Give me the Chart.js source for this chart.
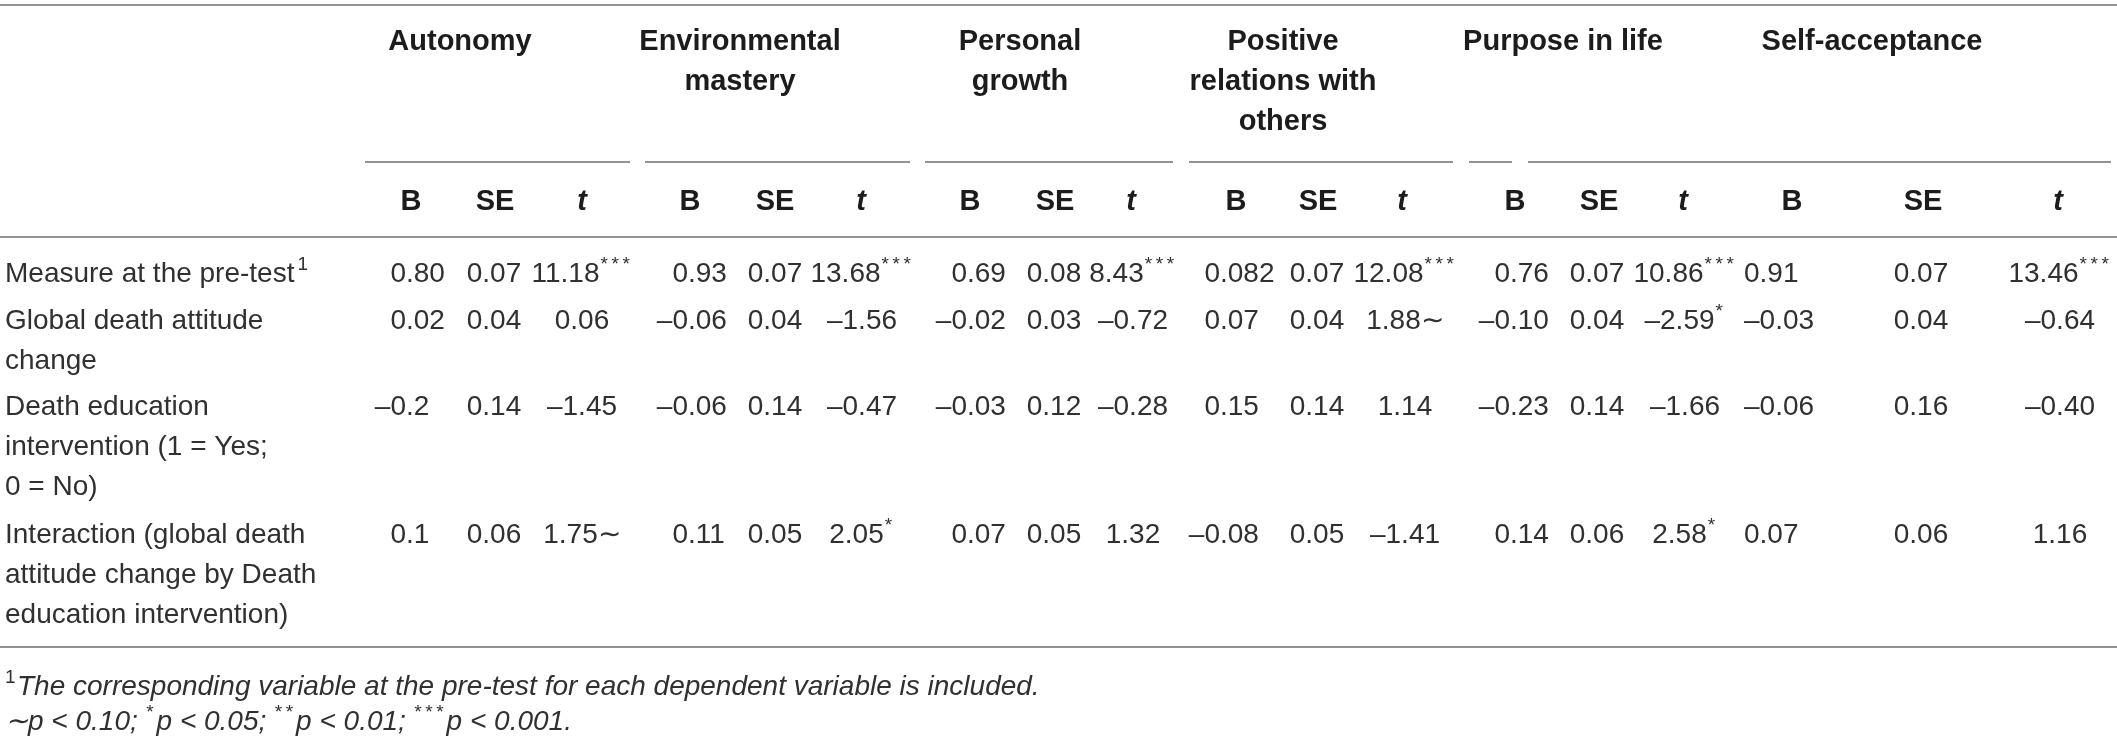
<!DOCTYPE html>
<html>
<head>
<meta charset="utf-8">
<script src="https://cdn.jsdelivr.net/npm/chart.js@4.4.1/dist/chart.umd.min.js"></script>
<style>
  html, body { margin: 0; padding: 0; background: #fff; }
  #wrap { width: 2117px; height: 739px; position: relative; }
</style>
</head>
<body>
<div id="wrap"><canvas id="chart"></canvas></div>
<script>
// ---- data ----
const headingLines = [
  ['Autonomy'],
  ['Environmental', 'mastery'],
  ['Personal', 'growth'],
  ['Positive', 'relations with', 'others'],
  ['Purpose in life'],
  ['Self-acceptance']
];
const statNames = ['B', 'SE', 't'];
const rowLabels = [
  ['Measure at the pre-test'],
  ['Global death attitude', 'change'],
  ['Death education', 'intervention (1 = Yes;', '0 = No)'],
  ['Interaction (global death', 'attitude change by Death', 'education intervention)']
];
const rowNotes = ['1', '', '', ''];

// one row per predictor, one entry per dependent variable
const coefB = [
  ['0.80', '0.93', '0.69', '0.082', '0.76', '0.91'],
  ['0.02', '-0.06', '-0.02', '0.07', '-0.10', '-0.03'],
  ['-0.2', '-0.06', '-0.03', '0.15', '-0.23', '-0.06'],
  ['0.1', '0.11', '0.07', '-0.08', '0.14', '0.07']
];
const coefSE = [
  ['0.07', '0.07', '0.08', '0.07', '0.07', '0.07'],
  ['0.04', '0.04', '0.03', '0.04', '0.04', '0.04'],
  ['0.14', '0.14', '0.12', '0.14', '0.14', '0.16'],
  ['0.06', '0.05', '0.05', '0.05', '0.06', '0.06']
];
const coefT = [
  ['11.18', '13.68', '8.43', '12.08', '10.86', '13.46'],
  ['0.06', '-1.56', '-0.72', '1.88', '-2.59', '-0.64'],
  ['-1.45', '-0.47', '-0.28', '1.14', '-1.66', '-0.40'],
  ['1.75', '2.05', '1.32', '-1.41', '2.58', '1.16']
];
const signif = [
  ['***', '***', '***', '***', '***', '***'],
  ['', '', '', '~', '*', ''],
  ['', '', '', '', '', ''],
  ['~', '*', '', '', '*', '']
];
const footnote1 = 'The corresponding variable at the pre-test for each dependent variable is included.';
const footnote2 = [['~', 'p < 0.10; '], ['*', 'p < 0.05; '], ['**', 'p < 0.01; '], ['***', 'p < 0.001.']];

// ---- layout ----
const W = 2117, H = 739;
const FAM = '"Liberation Sans", Arial, sans-serif';
const BODY = 28, HEADSZ = 29, SUP = 19, STAR_GAP = 11;
const TEXT = '#303030', HEAD = '#1c1c1c', RULE = '#929292';
const headCenter = [460, 740, 1020, 1283, 1563, 1872];
const headY = [42, 82, 122];
const underlines = [[365, 630], [645, 910], [925, 1173], [1189, 1453], [1469, 1512], [1528, 2111]];
const statHeadX = [
  [411, 690, 970, 1236, 1515, 1792],
  [495, 775, 1055, 1318, 1599, 1923],
  [582, 861, 1131, 1402, 1683, 2058]
];
const bPointX = [406, 688, 967, 1220, 1510, 1744];
const bAlign = ['decimal', 'decimal', 'decimal', 'decimal', 'decimal', 'left'];
const seX = [494, 775, 1054, 1317, 1597, 1921];
const tX = [582, 862, 1133, 1405, 1685, 2060];
const statY = 202;
const rowY = [274, 321, 407, 535];
const lineGap = 40;
const rules = { top: 5, group: 162, head: 237, bottom: 647 };

const dash = s => s.replace('-', '\u2013');

const tablePlugin = {
  id: 'table',
  beforeDraw(chart) {
    const ctx = chart.ctx;
    ctx.save();
    ctx.fillStyle = '#fff';
    ctx.fillRect(0, 0, chart.width, chart.height);
    ctx.restore();
  },
  afterDraw(chart) {
    const ctx = chart.ctx;
    const X = v => chart.scales.x.getPixelForValue(v);
    const Y = v => chart.scales.y.getPixelForValue(v);
    ctx.save();
    ctx.textBaseline = 'middle';
    ctx.textAlign = 'left';

    const measure = (txt, size, style) => {
      ctx.font = (style || '') + ' ' + size + 'px ' + FAM;
      return ctx.measureText(txt).width;
    };
    const draw = (txt, x, y, size, style, align) => {
      const w = measure(txt, size, style);
      let left = x;
      if (align === 'center') left = x - w / 2;
      else if (align === 'right') left = x - w;
      ctx.fillText(txt, left, y);
      return w;
    };
    // superscript marks, asterisks spaced like the source
    const supWidth = s => s.length * STAR_GAP;
    const drawSup = (s, x, y, style) => {
      for (let i = 0; i < s.length; i++) draw(s[i], x + i * STAR_GAP, y - 9, SUP, style);
      return supWidth(s);
    };

    // rules
    ctx.strokeStyle = RULE;
    ctx.lineWidth = 2;
    const hline = (x0, x1, y) => {
      ctx.beginPath();
      ctx.moveTo(X(x0), Y(y));
      ctx.lineTo(X(x1), Y(y));
      ctx.stroke();
    };
    hline(0, W, rules.top);
    hline(0, W, rules.head);
    hline(0, W, rules.bottom);
    underlines.forEach(u => hline(u[0], u[1], rules.group));

    // group headings
    ctx.fillStyle = HEAD;
    headingLines.forEach((lines, g) => {
      lines.forEach((l, i) => draw(l, X(headCenter[g]), Y(headY[i]), HEADSZ, 'bold', 'center'));
    });

    // B / SE / t
    statNames.forEach((s, k) => {
      statHeadX[k].forEach(x => draw(s, X(x), Y(statY), HEADSZ, s === 't' ? 'italic bold' : 'bold', 'center'));
    });

    ctx.fillStyle = TEXT;
    // row labels
    rowLabels.forEach((lines, r) => {
      lines.forEach((l, i) => {
        const y = Y(rowY[r] + i * lineGap);
        const w = draw(l, X(5), y, BODY);
        if (i === lines.length - 1 && rowNotes[r]) draw(rowNotes[r], X(5) + w + 3, y - 9, SUP);
      });
    });

    // cells
    coefB.forEach((row, r) => {
      const y = Y(rowY[r]);
      row.forEach((v, g) => {
        const s = dash(v);
        let left = X(bPointX[g]);
        if (bAlign[g] === 'decimal') left -= measure(s.split('.')[0], BODY);
        draw(s, left, y, BODY);
        draw(dash(coefSE[r][g]), X(seX[g]), y, BODY, '', 'center');

        const tTxt = dash(coefT[r][g]) + (signif[r][g] === '~' ? '\u223C' : '');
        const star = signif[r][g] === '~' ? '' : signif[r][g];
        const wMain = measure(tTxt, BODY);
        const wStar = star ? supWidth(star) : 0;
        const left2 = X(tX[g]) - (wMain + wStar) / 2;
        draw(tTxt, left2, y, BODY);
        if (star) drawSup(star, left2 + wMain + 1, y);
      });
    });

    // footnotes
    draw('1', X(5), Y(678), SUP);
    draw(footnote1, X(17), Y(687), BODY, 'italic');
    let fx = X(5);
    const fy = Y(722);
    footnote2.forEach(([mark, txt]) => {
      if (mark === '~') fx += draw('\u223C', fx, fy, BODY, 'italic');
      else fx += drawSup(mark, fx, fy, 'italic');
      fx += draw(txt, fx, fy, BODY, 'italic');
    });
    ctx.restore();
  }
};

new Chart(document.getElementById('chart'), {
  type: 'scatter',
  data: { datasets: [{ data: [], showLine: false }] },
  options: {
    responsive: true,
    maintainAspectRatio: false,
    animation: false,
    layout: { padding: 0 },
    plugins: { legend: { display: false }, tooltip: { enabled: false } },
    scales: {
      x: { type: 'linear', min: 0, max: W, display: false },
      y: { type: 'linear', min: 0, max: H, reverse: true, display: false }
    }
  },
  plugins: [tablePlugin]
});
</script>
</body>
</html>
